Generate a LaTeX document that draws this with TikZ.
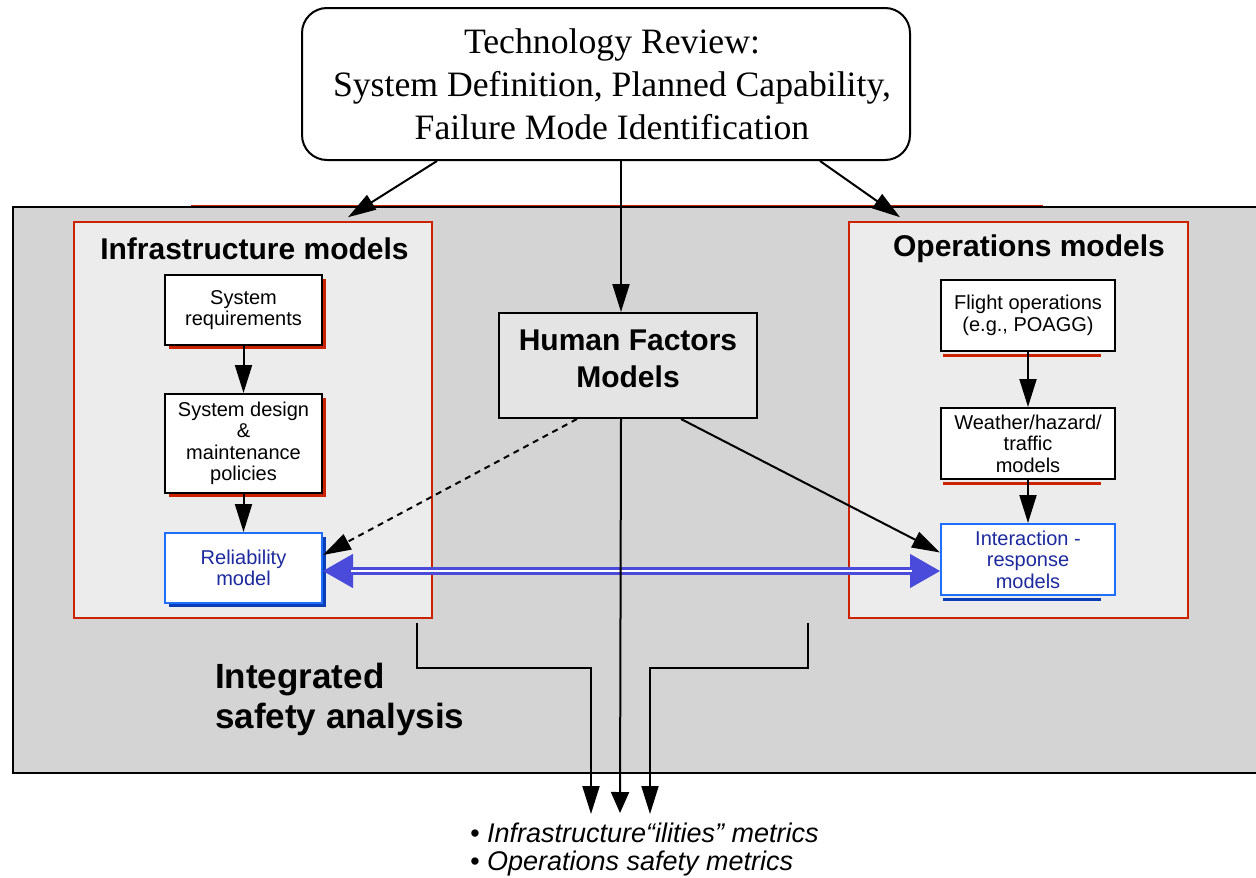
\documentclass[tikz,border=0pt]{standalone}
\usepackage{fontspec}
\setmainfont{Liberation Sans}
\newfontfamily\serifface{Liberation Serif}
\usetikzlibrary{arrows.meta,shadows}

\definecolor{panelgray}{HTML}{D4D4D4}
\definecolor{framegray}{HTML}{ECECEC}
\definecolor{hfgray}{HTML}{E4E4E4}
\definecolor{framered}{HTML}{CC2200}
\definecolor{boxblue}{HTML}{1F6FFF}
\definecolor{shadeblue}{HTML}{0A3DB8}
\definecolor{textblue}{HTML}{1C2A9E}
\definecolor{linkblue}{HTML}{4A4ADB}

\tikzstyle{panel}=[draw, fill=panelgray, line width=2pt, minimum width=1249pt, minimum height=566pt]
\tikzstyle{frame}=[draw=framered, fill=framegray, line width=1.6pt, minimum height=396pt]
\tikzstyle{head}=[font=\bfseries\fontsize{30}{37}\selectfont, inner sep=0pt, align=center]
\tikzstyle{infobox}=[draw, fill=white, line width=2pt, inner sep=0pt, minimum width=157pt, align=center, font=\fontsize{20}{21.5}\selectfont, drop shadow={shadow xshift=4pt, shadow yshift=-4pt, fill=framered, opacity=1}]
\tikzstyle{relbox}=[infobox, draw=boxblue, text=textblue, drop shadow={shadow xshift=4pt, shadow yshift=-4pt, fill=shadeblue, opacity=1}]
\tikzstyle{opsbox}=[draw, fill=white, line width=2pt, inner sep=0pt, minimum width=174pt, minimum height=71pt, align=center, font=\fontsize{20}{21.5}\selectfont]
\tikzstyle{arr}=[-{Triangle[length=28pt,width=17pt]}, line width=2pt]

\begin{document}
\begin{tikzpicture}[x=1pt, y=-1pt]
\useasboundingbox (0,0) rectangle (1256,878);

\node[panel](panel) at (637.5,490) {};
\draw[framered, line width=1pt] (191,205) -- (1043,205);

\node[draw, fill=white, rounded corners=25pt, line width=2pt, minimum width=608pt, minimum height=152pt, align=center, font=\serifface\fontsize{35.7}{43}\selectfont](tr) at (606,84) {\hspace*{12pt}Technology Review:\\\hspace*{12pt}System Definition, Planned Capability,\\\hspace*{12pt}Failure Mode Identification};

\node[frame, minimum width=358pt](infra) at (253,420) {};
\node[frame, minimum width=339pt](ops) at (1018.5,420) {};
\node[head](infrahead) at (254.5,249) {Infrastructure models};
\node[head](opshead) at (1029,249) {Operations models};

\node[infobox, minimum height=70pt](sysreq) at (243.5,310) {System\\requirements};
\node[infobox, minimum height=99pt](sysdes) at (243.5,443.5) {System design\\\&\\maintenance\\policies};
\node[relbox, minimum height=70pt](rel) at (243.5,568) {Reliability\\model};

\node[opsbox](fops) at (1028,315.5) {Flight operations\\(e.g., POAGG)};
\node[opsbox](wx) at (1028,443.5) {Weather/hazard/\\traffic\\models};
\node[opsbox, draw=boxblue, text=textblue](ir) at (1028,559.5) {Interaction -\\response\\models};
\foreach \n in {fops,wx}
  \draw[framered, line width=3pt] ([xshift=3pt,yshift=-3pt]\n.south west) -- ([xshift=-15pt,yshift=-3pt]\n.south east);
\draw[shadeblue, line width=3pt] ([xshift=3pt,yshift=-3pt]ir.south west) -- ([xshift=-15pt,yshift=-3pt]ir.south east);

\node[draw, fill=hfgray, line width=2pt, minimum width=258pt, minimum height=105pt, head, text depth=14pt](hf) at (628,365.5) {Human Factors\\Models};

\node[font=\bfseries\fontsize{35}{40}\selectfont, align=left, anchor=west, inner sep=0pt](isa) at (215,699) {Integrated\\safety analysis};

\coordinate (mi) at (591,814);
\coordinate (mc) at (620,813);
\coordinate (mo) at (650,814);
\node[font=\itshape\fontsize{27}{28}\selectfont, align=left, anchor=north west, inner sep=0pt](met) at (470,823) {\textbullet\ Infrastructure“ilities” metrics\\\textbullet\ Operations safety metrics};

\draw[arr] ([xshift=-169pt]tr.south) -- ([xshift=95pt,yshift=4pt]infra.north);
\draw[arr] ([xshift=15pt]tr.south) -- ([xshift=-7pt]hf.north);
\draw[arr] ([xshift=214pt]tr.south) -- ([xshift=-118.5pt,yshift=4pt]ops.north);

\draw[arr] (sysreq) -- (sysdes);
\draw[arr] (sysdes) -- (rel);
\draw[arr] (fops) -- (wx);
\draw[arr] (wx) -- (ir);

\draw[arr, dash pattern=on 6pt off 5pt] ([xshift=-51pt]hf.south) -- ([yshift=13pt]rel.east);
\draw[arr] ([xshift=53pt]hf.south) -- ([yshift=7pt]ir.west);

\draw[linkblue, line width=1pt, {Triangle[length=30pt,width=34pt]}-{Triangle[length=30pt,width=34pt]}] ([yshift=-3pt]rel.east) -- ([yshift=-3pt]rel.east -| ir.west);
\draw[linkblue, line width=8pt, shorten <=28pt, shorten >=28pt] ([yshift=-3pt]rel.east) -- ([yshift=-3pt]rel.east -| ir.west);
\draw[white, line width=2pt, shorten <=28pt, shorten >=28pt] ([yshift=-3pt]rel.east) -- ([yshift=-3pt]rel.east -| ir.west);

\draw[line width=2pt, -{Triangle[length=21pt,width=18pt]}] ([xshift=-7pt]hf.south) -- (mc);
\draw[arr] ([xshift=164pt,yshift=-4pt]infra.south) -- ++(0,45) -| (mi);
\draw[arr] ([xshift=-210.5pt,yshift=-4pt]ops.south) -- ++(0,45) -| (mo);
\end{tikzpicture}
\end{document}
